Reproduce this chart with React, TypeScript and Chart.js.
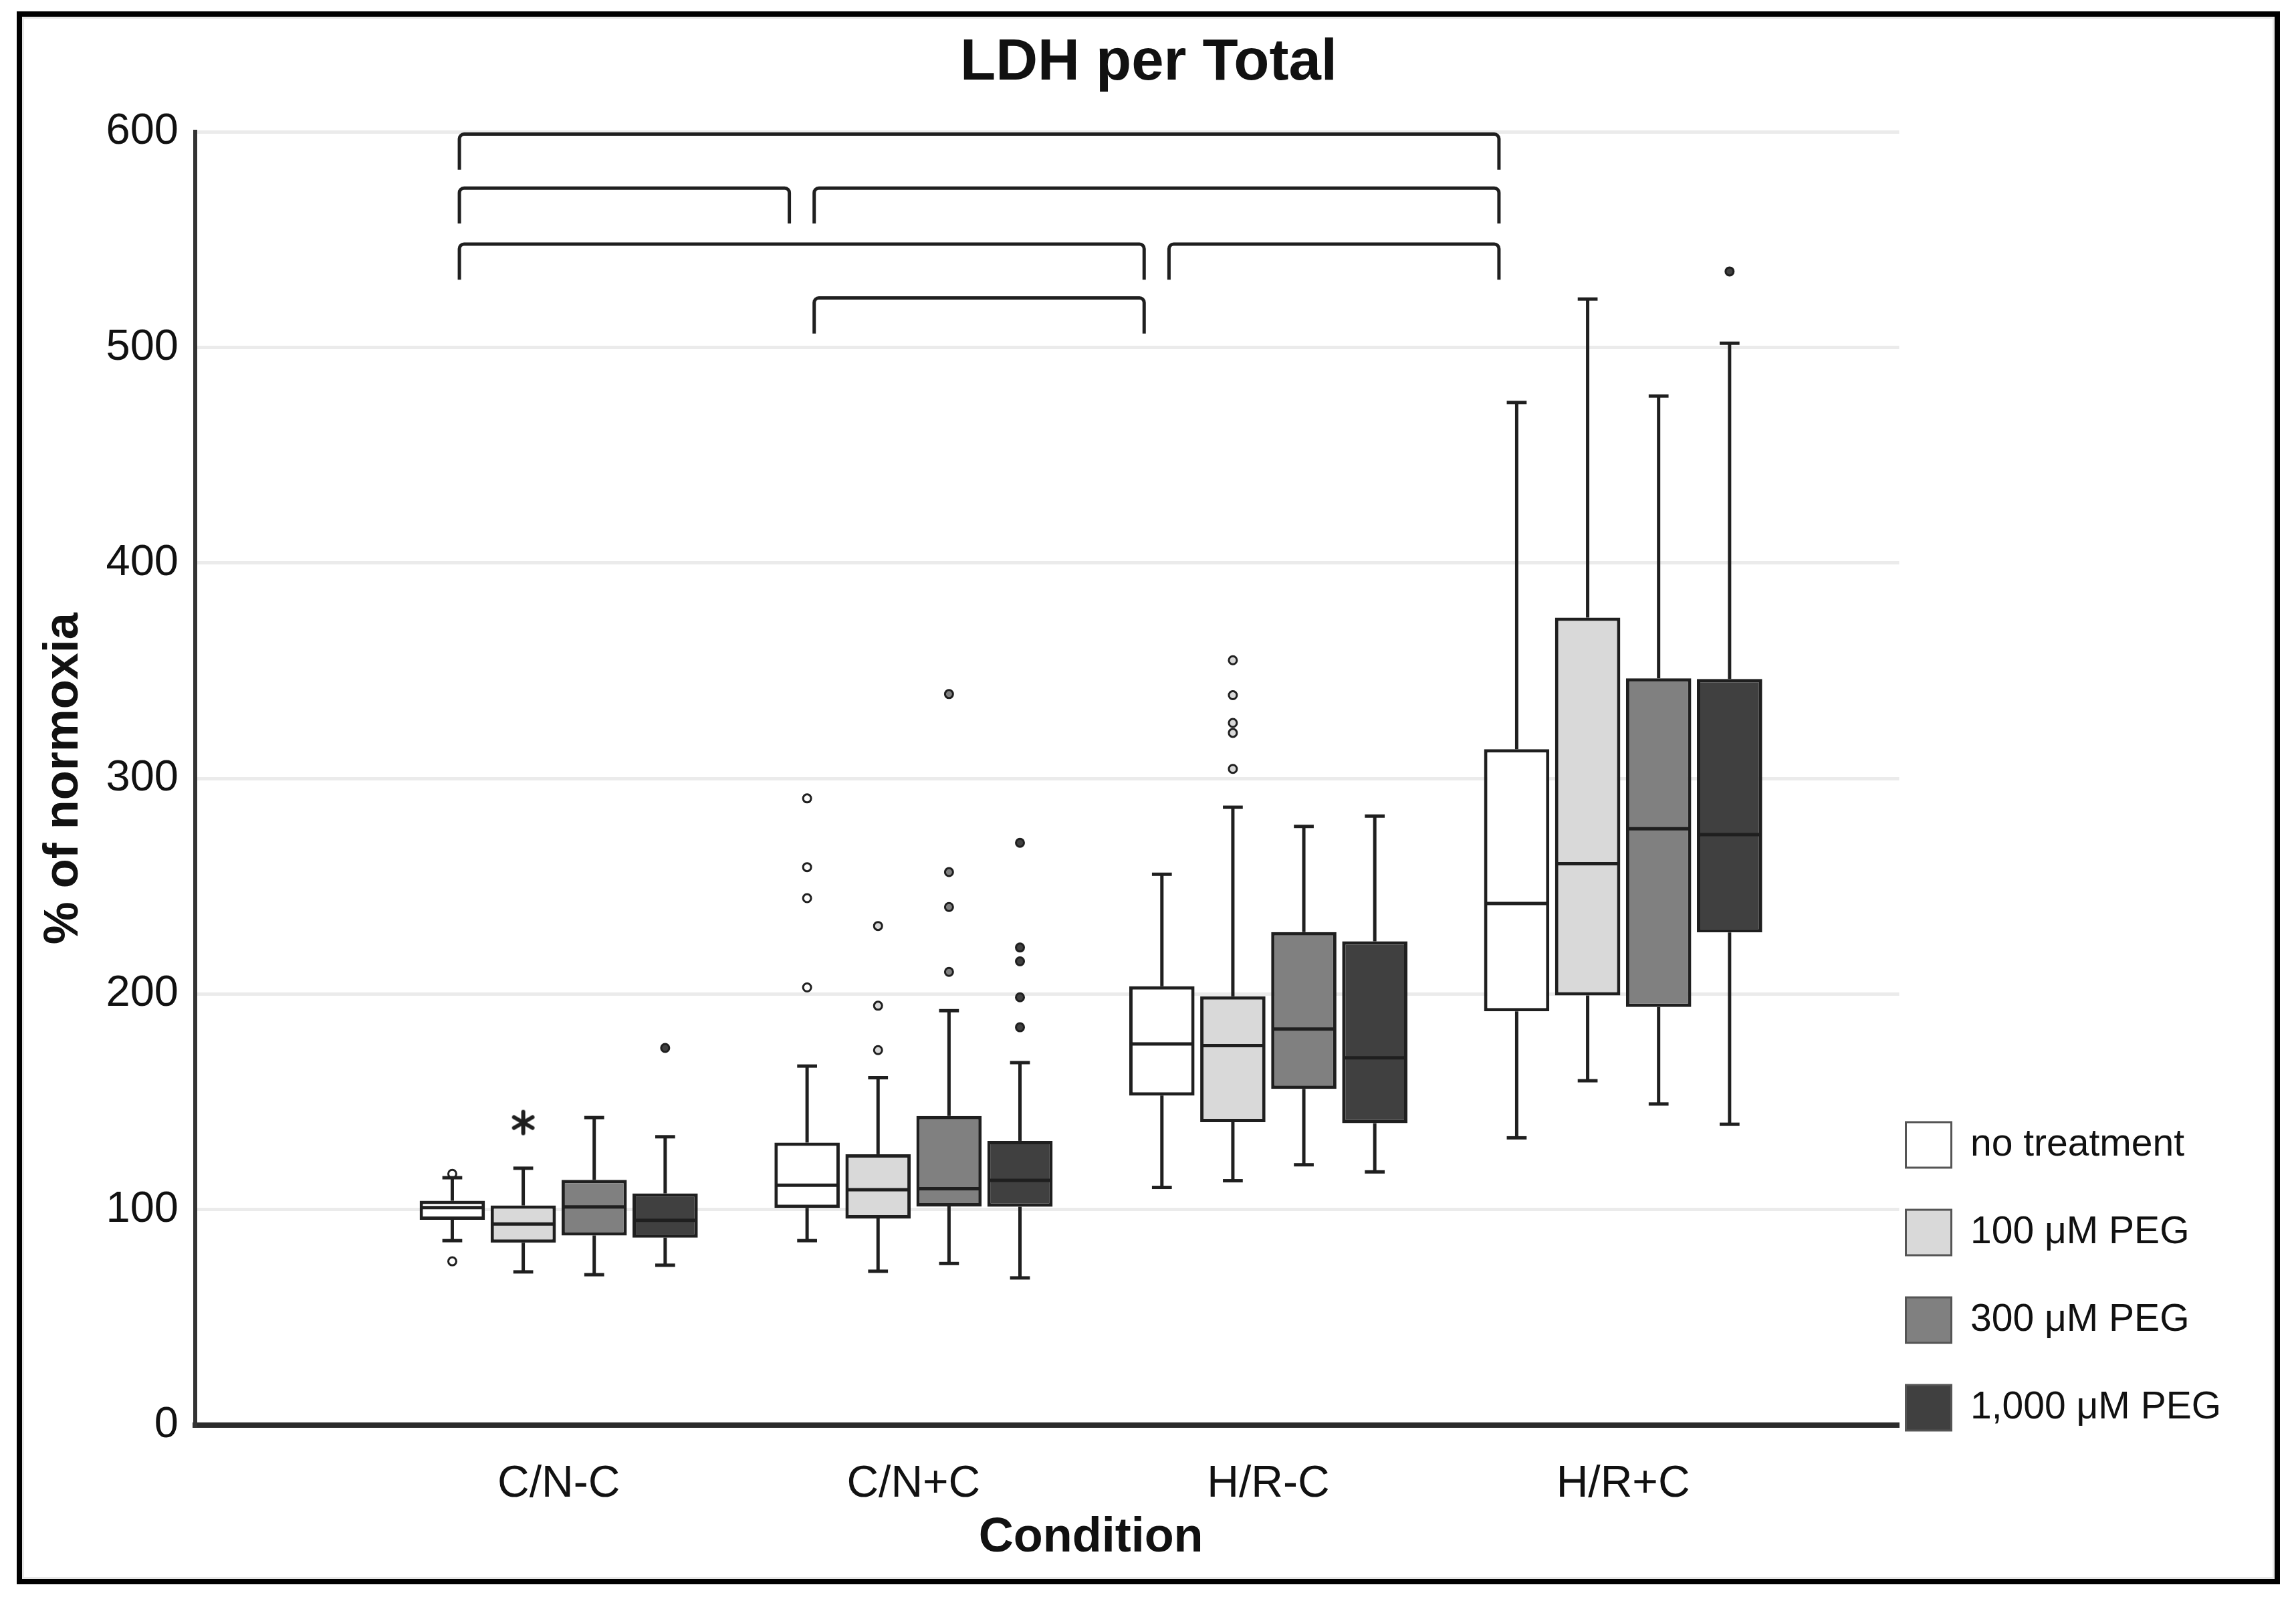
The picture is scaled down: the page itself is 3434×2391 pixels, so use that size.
import React, { useEffect, useRef } from 'react';
import { Chart, registerables } from 'chart.js';

Chart.register(...registerables);

// ---------------- data ----------------
const CATEGORIES = ['C/N-C', 'C/N+C', 'H/R-C', 'H/R+C'];
const SERIES = ['no treatment', '100 μM PEG', '300 μM PEG', '1,000 μM PEG'];

// [series][category]
const WHISKER_LOW = [
  [85.6, 85.6, 110.3, 133.3],
  [71.1, 71.4, 113.4, 159.8],
  [69.8, 75.0, 120.8, 149.0],
  [74.2, 68.3, 117.5, 139.6],
];
const Q1 = [
  [95.3, 100.8, 152.9, 192.0],
  [84.6, 95.9, 140.6, 199.4],
  [88.0, 101.5, 156.0, 194.0],
  [87.0, 101.3, 140.1, 228.6],
];
const MEDIAN = [
  [100.9, 111.3, 176.9, 242.0],
  [93.3, 109.2, 176.1, 260.5],
  [101.2, 109.7, 183.8, 276.7],
  [95.0, 113.6, 170.4, 274.0],
];
const Q3 = [
  [104.1, 131.1, 203.6, 313.6],
  [101.9, 125.7, 199.0, 374.7],
  [113.8, 143.4, 228.8, 346.5],
  [107.5, 131.9, 224.5, 346.2],
];
const WHISKER_HIGH = [
  [114.8, 166.6, 255.6, 474.5],
  [119.2, 161.2, 286.7, 522.5],
  [142.7, 192.3, 277.8, 477.5],
  [133.8, 168.2, 282.6, 502.0],
];
const OUTLIERS = [
  [[116.6, 76.0], [290.8, 258.9, 244.5, 203.1], [], []],
  [[], [231.6, 194.6, 174.0], [354.9, 338.7, 325.8, 321.2, 304.5], []],
  [[], [339.2, 256.6, 240.4, 210.3], [], []],
  [[175.0], [270.2, 221.6, 215.2, 198.5, 184.6], [], [535.3]],
];
const EXTREMES = [
  [[], [], [], []],
  [[140.4], [], [], []],
  [[], [], [], []],
  [[], [], [], []],
];
// significance brackets (category numbers 1..4, top value)
const BRACKET_FROM = [1, 1, 2, 1, 3, 2];
const BRACKET_TO = [4, 2, 4, 3, 4, 3];
const BRACKET_Y = [599, 574, 574, 548, 548, 523];
const BRACKET_DROP = 16.5;

const Y_MIN = 0;
const Y_MAX = 600;
const Y_STEP = 100;

// ---------------- style ----------------
const FONT = "'Liberation Sans', Arial, Helvetica, sans-serif";
const TEXT = '#111111';
const LINE = '#1f1f1f';
const FILLS = ['#ffffff', '#d9d9d9', '#808080', '#404040'];
const OFFSETS = [-0.3, -0.1, 0.1, 0.3];
const CAP_HALF = 0.028;
const BR_LEFT_OFF = -0.28;
const BR_RIGHT_OFF = -0.35;
const LEGEND_GAP = 10;
const LEGEND_DROP = 8;
const W = 3369;
const H = 2336;

function makeAsterisk(): HTMLCanvasElement {
  const size = 42;
  const c = document.createElement('canvas');
  c.width = size;
  c.height = size;
  const g = c.getContext('2d')!;
  g.strokeStyle = LINE;
  g.lineWidth = 6;
  g.lineCap = 'round';
  const r = 16;
  const m = size / 2;
  for (const a of [90, 30, 150]) {
    const rad = (a * Math.PI) / 180;
    g.beginPath();
    g.moveTo(m - r * Math.cos(rad), m - r * Math.sin(rad));
    g.lineTo(m + r * Math.cos(rad), m + r * Math.sin(rad));
    g.stroke();
  }
  return c;
}

const extrasPlugin = {
  id: 'boxExtras',
  afterLayout(chart: any) {
    const lg = chart.legend;
    const ca = chart.chartArea;
    if (!lg || !ca) return;
    const pad = lg.options.labels.padding;
    const dx = ca.right + LEGEND_GAP - (lg.left + pad);
    lg.left += dx;
    lg.right += dx;
    const dy = ca.bottom + LEGEND_DROP - (lg.bottom - pad);
    lg.top += dy;
    lg.bottom += dy;
  },
  afterDatasetsDraw(chart: any) {
    const { ctx, scales } = chart;
    const x = scales.x;
    const y = scales.y;
    ctx.save();
    ctx.strokeStyle = LINE;
    ctx.lineWidth = 5;
    ctx.lineCap = 'butt';
    const capHalf = Math.abs(x.getPixelForValue(CAP_HALF) - x.getPixelForValue(0));
    const seg = (x1: number, y1: number, x2: number, y2: number) => {
      ctx.beginPath();
      ctx.moveTo(x1, y1);
      ctx.lineTo(x2, y2);
      ctx.stroke();
    };
    for (let s = 0; s < SERIES.length; s++) {
      const meta = chart.getDatasetMeta(s);
      for (let c = 0; c < CATEGORIES.length; c++) {
        const el = meta.data[c];
        if (!el) continue;
        const cx = el.x;
        const half = el.width / 2;
        const yq1 = y.getPixelForValue(Q1[s][c]);
        const yq3 = y.getPixelForValue(Q3[s][c]);
        const ylo = y.getPixelForValue(WHISKER_LOW[s][c]);
        const yhi = y.getPixelForValue(WHISKER_HIGH[s][c]);
        const ymed = y.getPixelForValue(MEDIAN[s][c]);
        seg(cx, yq3, cx, yhi);
        seg(cx - capHalf, yhi, cx + capHalf, yhi);
        seg(cx, yq1, cx, ylo);
        seg(cx - capHalf, ylo, cx + capHalf, ylo);
        seg(cx - half + 2, ymed, cx + half - 2, ymed);
      }
    }
    // brackets
    const r = 7;
    for (let k = 0; k < BRACKET_Y.length; k++) {
      const x1 = x.getPixelForValue(BRACKET_FROM[k] + BR_LEFT_OFF);
      const x2 = x.getPixelForValue(BRACKET_TO[k] + BR_RIGHT_OFF);
      const yt = y.getPixelForValue(BRACKET_Y[k]);
      const yb = y.getPixelForValue(BRACKET_Y[k] - BRACKET_DROP);
      ctx.beginPath();
      ctx.moveTo(x1, yb);
      ctx.arcTo(x1, yt, x2, yt, r);
      ctx.arcTo(x2, yt, x2, yb, r);
      ctx.lineTo(x2, yb);
      ctx.stroke();
    }
    // x axis title, centered on the categories
    ctx.fillStyle = TEXT;
    ctx.font = `bold 72px ${FONT}`;
    ctx.textAlign = 'center';
    ctx.textBaseline = 'middle';
    const midVal = (1 + CATEGORIES.length) / 2;
    ctx.fillText('Condition', x.getPixelForValue(midVal), chart.chartArea.bottom + 169);
    ctx.restore();
  },
};

export default function App() {
  const ref = useRef<HTMLCanvasElement>(null);
  useEffect(() => {
    if (!ref.current) return;
    Chart.defaults.font.family = FONT;
    Chart.defaults.color = TEXT;
    const asterisk = makeAsterisk();

    const boxSets = SERIES.map((name, s) => ({
      type: 'bar' as const,
      label: name,
      data: Q1[s].map((q1, c) => ({ x: c + 1 + OFFSETS[s], y: [q1, Q3[s][c]] })),
      backgroundColor: FILLS[s],
      borderColor: LINE,
      borderWidth: 5,
      borderSkipped: false,
      grouped: false,
      categoryPercentage: 1,
      barPercentage: 0.92,
      order: 2,
    }));
    const outlierSets = SERIES.map((name, s) => ({
      type: 'scatter' as const,
      label: name + ' outliers',
      data: OUTLIERS[s].flatMap((vals, c) => vals.map((v) => ({ x: c + 1 + OFFSETS[s], y: v }))),
      backgroundColor: FILLS[s],
      borderColor: LINE,
      borderWidth: 3,
      pointRadius: 6,
      pointStyle: 'circle',
      order: 1,
    }));
    const extremeSets = SERIES.map((name, s) => ({
      type: 'scatter' as const,
      label: name + ' extremes',
      data: EXTREMES[s].flatMap((vals, c) => vals.map((v) => ({ x: c + 1 + OFFSETS[s], y: v }))),
      pointStyle: asterisk,
      pointRadius: 16,
      order: 0,
    }));

    const chart = new Chart(ref.current, {
      type: 'bar',
      data: { datasets: [...boxSets, ...outlierSets, ...extremeSets] as any },
      options: {
        responsive: false,
        animation: false,
        events: [],
        layout: { padding: { left: 18, right: 17, top: 0, bottom: 0 } },
        plugins: {
          tooltip: { enabled: false },
          title: {
            display: true,
            text: 'LDH per Total',
            color: TEXT,
            font: { size: 87, weight: 'bold', family: FONT },
            padding: { top: 18, bottom: 50 },
          },
          legend: {
            display: true,
            position: 'right',
            align: 'end',
            fullSize: false,
            labels: {
              boxWidth: 68,
              boxHeight: 68,
              padding: 63,
              color: TEXT,
              font: { size: 57, family: FONT },
              generateLabels: (ch: any) =>
                Chart.defaults.plugins.legend.labels
                  .generateLabels(ch)
                  .filter((l: any) => l.datasetIndex < SERIES.length)
                  .map((l: any) => ({ ...l, lineWidth: 3, strokeStyle: '#555555' })),
            },
          },
        },
        scales: {
          x: {
            type: 'linear',
            offset: false,
            min: -0.0245,
            max: 4.778,
            afterBuildTicks: (scale: any) => {
              scale.ticks = CATEGORIES.map((_, i) => ({ value: i + 1 }));
            },
            afterFit: (scale: any) => {
              scale.height = 230;
            },
            ticks: {
              color: TEXT,
              font: { size: 66, family: FONT },
              padding: 49,
              autoSkip: false,
              maxRotation: 0,
              callback: (v: any) => CATEGORIES[Math.round(Number(v)) - 1] ?? '',
            },
            grid: { display: false, drawTicks: false, offset: false },
            border: { display: true, color: '#2b2b2b', width: 8 },
          },
          y: {
            type: 'linear',
            min: Y_MIN,
            max: Y_MAX,
            afterFit: (scale: any) => {
              scale.width = 241;
            },
            ticks: {
              stepSize: Y_STEP,
              color: TEXT,
              font: { size: 65, family: FONT },
              padding: 25,
            },
            grid: {
              color: (c: any) => (c.tick && c.tick.value === 0 ? 'rgba(0,0,0,0)' : '#ebebeb'),
              lineWidth: 5,
              drawTicks: false,
            },
            border: { display: true, color: '#333333', width: 6 },
            title: {
              display: true,
              text: '% of normoxia',
              color: TEXT,
              font: { size: 72, weight: 'bold', family: FONT },
              padding: { top: 2, bottom: 0 },
            },
          },
        },
      } as any,
      plugins: [extrasPlugin],
    });
    return () => chart.destroy();
  }, []);

  return (
    <div
      style={{
        position: 'absolute',
        left: 25,
        top: 17,
        width: W,
        height: H,
        border: '8px solid #000',
        boxShadow: 'inset 0 0 0 3px #e8e8e8',
        background: '#fff',
      }}
    >
      <canvas ref={ref} width={W} height={H} style={{ display: 'block', width: W, height: H }} />
    </div>
  );
}
